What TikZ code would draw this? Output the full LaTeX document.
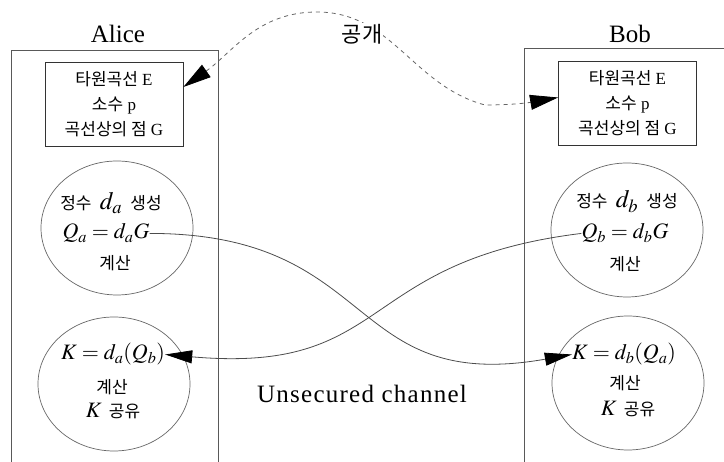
\documentclass[tikz,border=0pt]{standalone}
\usepackage{mathptmx}
\usepackage{fontspec}
\setmainfont{Liberation Serif}
\newfontfamily\ko{Noto Sans CJK KR}
\usetikzlibrary{arrows.meta,shapes.geometric}
\tikzset{
  party/.style={anchor=base, font=\fontsize{25}{30}\selectfont},
  params/.style={draw=black!80, line width=0.8pt, minimum width=138pt,
    minimum height=84pt, align=center, font=\fontsize{17}{25}\selectfont},
  stage/.style={draw=black!60, line width=0.7pt, ellipse,
    minimum width=152pt, minimum height=134pt},
  txt/.style={anchor=base, inner sep=0pt, font=\fontsize{17}{20}\selectfont},
  eqn/.style={anchor=base, inner sep=0pt, font=\fontsize{22}{26}\selectfont},
  frame/.style={draw=black!65, line width=0.8pt},
  chan/.style={draw=black!70, line width=0.8pt,
    -{Triangle[length=27pt,width=13pt,color=black]}},
  pub/.style={draw=black!60, line width=0.8pt, dash pattern=on 4pt off 4pt,
    {Triangle[length=28pt,width=15pt,color=black]}-{Triangle[length=28pt,width=15pt,color=black]}}
}
\newcommand{\bigd}[1]{{\fontsize{25}{25}\selectfont$d_#1$}}
\newcommand{\bigK}{{\fontsize{22}{22}\selectfont$K$}}

\begin{document}
\begin{tikzpicture}[x=1pt, y=1pt]
    \useasboundingbox (0,0) rectangle (724,462);

    % the two sides
    \draw [frame] (11,0) |- (218,412) -- (218,0);
    \draw [frame] (524,0) |- (724,414);
    \node [party] (alice) at (118,419) {Alice};
    \node [party] (bob) at (630,419) {Bob};

    % shared curve parameters
    \node [params] (boxA) at (114,358) {{\ko 타원곡선} E\\{\ko 소수} p\\{\ko 곡선상의 점} G};
    \node [params] (boxB) at (627.5,358.5) {{\ko 타원곡선} E\\{\ko 소수} p\\{\ko 곡선상의 점} G};

    % key generation
    \node [stage] (genA) at (117,234) {};
    \node [txt] (selA) at (111,252) {{\ko 정수}\hspace{4pt} \bigd{a}\hspace{4pt} {\ko 생성}};
    \node [eqn] (qa) at (106,223) {$Q_a = d_aG$};
    \node [txt] (compA) at (115,192) {\ko 계산};

    \node [stage] (genB) at (627,232) {};
    \node [txt] (selB) at (627,254) {{\ko 정수}\hspace{4pt} \bigd{b}\hspace{4pt} {\ko 생성}};
    \node [eqn] (qb) at (625,223) {$Q_b = d_bG$};
    \node [txt] (compB) at (625,191) {\ko 계산};

    % shared key
    \node [stage] (keyA) at (114,78) {};
    \node [eqn] (ka) at (113,102) {$K = d_a(Q_b)$};
    \node [txt] (kcompA) at (112,68) {\ko 계산};
    \node [txt] (shareA) at (113,44) {\bigK\hspace{3pt} {\ko 공유}};

    \node [stage] (keyB) at (628,79) {};
    \node [eqn] (kb) at (624,102) {$K = d_b(Q_a)$};
    \node [txt] (kcompB) at (625,72) {\ko 계산};
    \node [txt] (shareB) at (628,46) {\bigK\hspace{3pt} {\ko 공유}};

    % exchange over the open channel
    \draw [chan] (qa.east) to[out=0, in=190, looseness=1.35] (kb.west);
    \draw [chan] (qb.west) to[out=187, in=-5, looseness=1.35] (ka.east);
    \node [party] (chanLbl) at (362,59)
      {\addfontfeatures{LetterSpace=5}Unsecured channel};

    % public parameters
    \coordinate (peak) at (317,450);
    \coordinate (dip) at (485,357);
    \draw [pub] ([yshift=17pt]boxA.east) to[out=35, in=180] (peak)
      to[out=0, in=165] (dip) to[out=0, in=190] ([yshift=6pt]boxB.west);
    \node [fill=white, inner sep=1pt, font=\fontsize{22}{26}\selectfont] (pubLbl) at (362,428) {\ko 공개};
\end{tikzpicture}
\end{document}
